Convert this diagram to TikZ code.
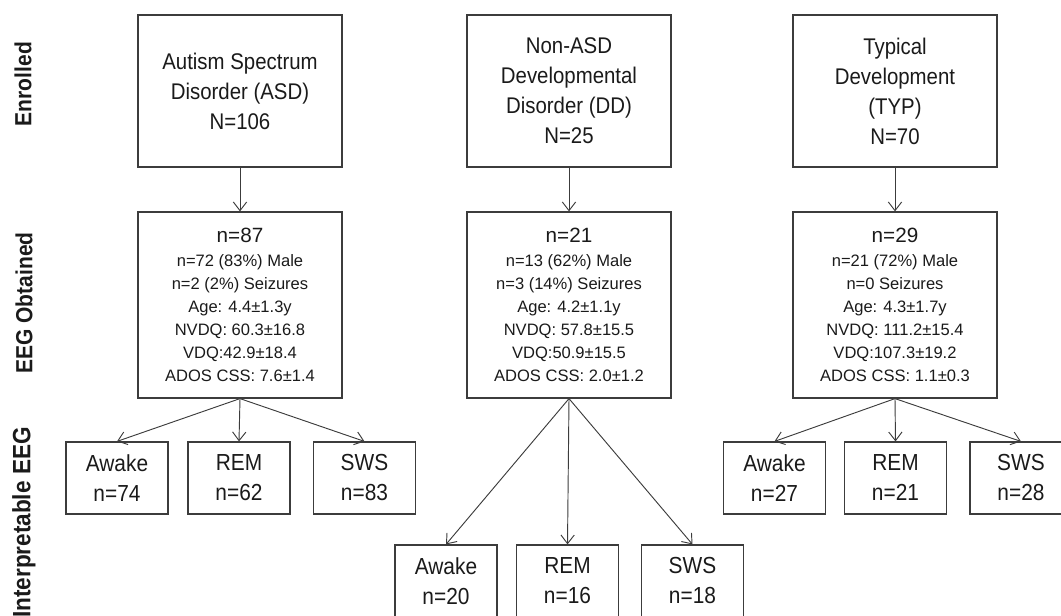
\documentclass[tikz,border=0pt]{standalone}
\usepackage{fontspec}
\setmainfont{Liberation Sans}
\newfontfamily\tallsans{Liberation Sans}[FakeStretch=0.9]
\usepackage{tikz}
\usetikzlibrary{arrows.meta}
\definecolor{ink}{HTML}{1A1A1A}
\definecolor{rule}{HTML}{3C3C3C}
\tikzset{
  cohort/.style={draw=rule,line width=0.9pt,minimum width=153pt,minimum height=114pt,inner sep=0pt,align=center,text=ink,font=\tallsans\fontsize{17}{22.5}\selectfont},
  stats/.style={cohort,minimum height=139.5pt,font=\fontsize{12.4}{17.25}\selectfont},
  stage/.style={cohort,minimum width=76.5pt,minimum height=54pt,font=\tallsans\fontsize{17.4}{22.5}\selectfont},
  flow/.style={draw=rule,line width=0.7pt,-{Straight Barb[length=6.5pt,width=10pt]}},
  phase/.style={rotate=90,inner sep=0pt,text=ink,font=\tallsans\fontsize{17.5}{19}\selectfont\bfseries}
}

\begin{document}
\begin{tikzpicture}[x=0.75pt,y=-0.75pt]
        \useasboundingbox (0,0) rectangle (1061,615);
        \node[phase] (enrolled) at (23,84) {Enrolled};
        \node[phase] (obtained) at (24,303) {EEG Obtained};
        \node[phase,anchor=east,font=\tallsans\fontsize{18.8}{19}\selectfont\bfseries] (interp) at (24,427) {Interpretable EEG};
        \node[cohort] (asd) at (240,91) {Autism Spectrum\\Disorder (ASD)\\N=106};
        \node[cohort] (dd) at (569,91) {Non-ASD\\Developmental\\Disorder (DD)\\N=25};
        \node[cohort] (typ) at (895,91) {Typical\\Development\\(TYP)\\N=70};
        \node[stats] (asdeeg) at (240,305) {{\fontsize{15.5}{17.25}\selectfont n=87}\\[1pt]n=72 (83\%) Male\\n=2 (2\%) Seizures\\Age: 4.4±1.3y\\NVDQ: 60.3±16.8\\VDQ:42.9±18.4\\ADOS CSS: 7.6±1.4};
        \node[stats] (ddeeg) at (569,305) {{\fontsize{15.5}{17.25}\selectfont n=21}\\[1pt]n=13 (62\%) Male\\n=3 (14\%) Seizures\\Age: 4.2±1.1y\\NVDQ: 57.8±15.5\\VDQ:50.9±15.5\\ADOS CSS: 2.0±1.2};
        \node[stats] (typeeg) at (895,305) {{\fontsize{15.5}{17.25}\selectfont n=29}\\[1pt]n=21 (72\%) Male\\n=0 Seizures\\Age: 4.3±1.7y\\NVDQ: 111.2±15.4\\VDQ:107.3±19.2\\ADOS CSS: 1.1±0.3};
        \node[stage] (asdawake) at (117,478) {Awake\\n=74};
        \node[stage] (asdrem) at (239,478) {REM\\n=62};
        \node[stage] (asdsws) at (364.5,478) {SWS\\n=83};
        \node[stage] (ddawake) at (446,581) {Awake\\n=20};
        \node[stage] (ddrem) at (567.5,581) {REM\\n=16};
        \node[stage] (ddsws) at (692.5,581) {SWS\\n=18};
        \node[stage] (typawake) at (774.5,478) {Awake\\n=27};
        \node[stage] (typrem) at (895.5,478) {REM\\n=21};
        \node[stage] (typsws) at (1021,478) {SWS\\n=28};
        \foreach \g in {asd,dd,typ}{
          \draw[flow] (\g.south) -- (\g eeg.north);
          \foreach \s in {awake,rem,sws}{\draw[flow] (\g eeg.south) -- (\g\s.north);}
        }
      \end{tikzpicture}
\end{document}
